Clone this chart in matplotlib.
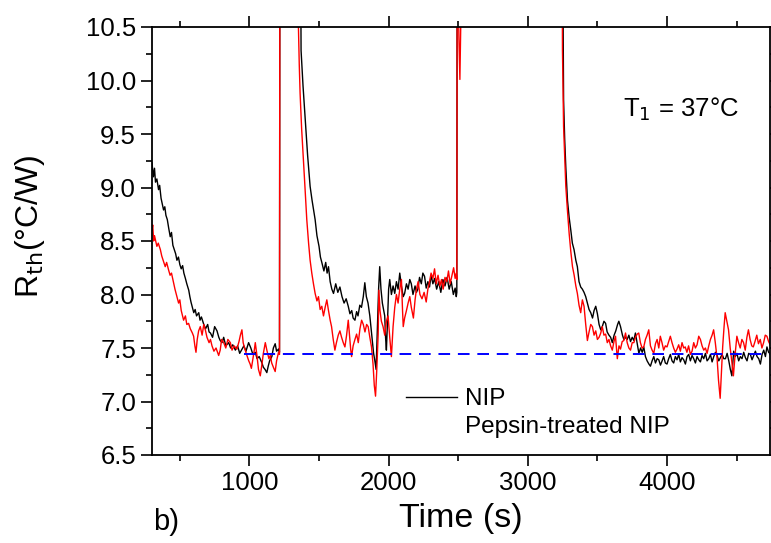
import matplotlib
matplotlib.use("Agg")
import matplotlib.pyplot as plt
from matplotlib.lines import Line2D
from matplotlib.ticker import MultipleLocator

plt.rcParams['font.family'] = ['Liberation Sans', 'DejaVu Sans']

# NIP (black)
nip_time = [300, 310, 318, 325, 335, 347, 355, 365, 375, 383, 392, 400, 410, 420, 431, 440, 450, 460, 470, 479,
            490, 500, 510, 520, 529, 540, 550, 564, 572, 580, 590, 600, 610, 620, 636, 645, 655, 672, 685, 700,
            710, 720, 735, 750, 767, 780, 790, 803, 815, 830, 851, 865, 880, 899, 915, 930, 947, 960, 975, 994,
            1010, 1025, 1042, 1055, 1070, 1090, 1100, 1112, 1125, 1135, 1145, 1161, 1172, 1185, 1195, 1209, 1216,
            1219, 1365,
            1371, 1385, 1400, 1418, 1436, 1450, 1462, 1472, 1485, 1500, 1510, 1520, 1535, 1548, 1558, 1568, 1580,
            1592, 1604, 1620, 1635, 1650, 1665, 1680, 1695, 1710, 1722, 1735, 1745, 1758, 1770, 1780, 1793, 1805,
            1818, 1829, 1840, 1852, 1865, 1880, 1892, 1900, 1910, 1920, 1928, 1936, 1945, 1955, 1965, 1972, 1978,
            1984, 1992, 2000, 2008, 2020, 2032, 2044, 2056, 2068, 2080, 2092, 2105, 2115, 2128, 2140, 2152, 2163,
            2175, 2190, 2200, 2210, 2222, 2235, 2246, 2258, 2270, 2282, 2294, 2305, 2318, 2330, 2345, 2360, 2375,
            2390, 2405, 2420, 2435, 2450, 2465, 2478, 2486, 2490,
            2493, 3250,
            3254, 3257, 3265, 3273, 3285, 3297, 3309, 3320, 3332, 3345, 3356, 3368, 3380, 3392, 3404, 3416, 3428,
            3440, 3452, 3465, 3476, 3488, 3500, 3512, 3524, 3535, 3547, 3559, 3570, 3583, 3595, 3607, 3620, 3632,
            3645, 3654, 3666, 3680, 3690, 3702, 3714, 3726, 3738, 3750, 3762, 3773, 3785, 3798, 3810, 3822, 3833,
            3845, 3857, 3870, 3881, 3893, 3905, 3917, 3929, 3941, 3953, 3965, 3976, 3988, 4000, 4012, 4024, 4036,
            4048, 4060, 4072, 4084, 4096, 4108, 4120, 4132, 4144, 4156, 4168, 4180, 4192, 4204, 4216, 4228, 4240,
            4252, 4264, 4276, 4288, 4300, 4312, 4324, 4336, 4348, 4360, 4372, 4384, 4396, 4408, 4420, 4432, 4444,
            4455, 4466, 4479, 4490, 4502, 4515, 4527, 4539, 4551, 4563, 4575, 4587, 4599, 4611, 4623, 4635, 4647,
            4659, 4671, 4683, 4695, 4707, 4718, 4730, 4745]
nip_rth = [9.23, 9.10, 9.18, 9.05, 9.08, 8.98, 9.02, 8.90, 8.84, 8.79, 8.82, 8.74, 8.70, 8.62, 8.54, 8.58, 8.46, 8.42, 8.38, 8.32,
           8.35, 8.28, 8.24, 8.27, 8.20, 8.15, 8.10, 8.04, 7.98, 7.93, 7.88, 7.83, 7.86, 7.80, 7.83, 7.76, 7.79, 7.72, 7.68, 7.72,
           7.65, 7.64, 7.60, 7.70, 7.66, 7.60, 7.57, 7.55, 7.60, 7.52, 7.55, 7.50, 7.53, 7.48, 7.52, 7.45, 7.49, 7.52, 7.47, 7.55,
           7.50, 7.44, 7.46, 7.40, 7.42, 7.36, 7.32, 7.30, 7.27, 7.33, 7.38, 7.42, 7.50, 7.54, 7.47, 7.49, 7.46,
           12.0, 12.0,
           10.28, 9.95, 9.66, 9.30, 9.01, 8.88, 8.78, 8.70, 8.55, 8.45, 8.35, 8.30, 8.22, 8.30, 8.20, 8.26, 8.12,
           8.05, 8.01, 8.10, 8.02, 8.07, 7.98, 7.92, 7.96, 7.89, 7.82, 7.85, 7.78, 7.76, 7.84, 7.80, 7.90, 7.88,
           7.98, 8.11, 7.98, 7.92, 7.80, 7.60, 7.45, 7.39, 7.30, 7.70, 8.05, 8.26, 8.05, 7.92, 7.85, 7.80, 7.60,
           7.48, 7.75, 8.05, 8.14, 8.00, 8.08, 8.01, 8.12, 8.05, 8.20, 8.08, 7.98, 8.01, 8.10, 8.05, 8.14, 8.10,
           8.00, 8.08, 8.02, 8.05, 8.16, 8.10, 8.20, 8.17, 8.06, 8.12, 8.07, 8.18, 8.10, 8.15, 8.05, 8.12, 8.02,
           8.14, 8.08, 8.16, 8.05, 8.12, 8.00, 8.06, 7.98, 8.02,
           12.0, 12.0,
           10.50, 9.82, 9.45, 9.19, 8.88, 8.72, 8.60, 8.48, 8.42, 8.32, 8.26, 8.12, 8.07, 8.05, 8.02, 7.98, 7.92,
           7.86, 7.83, 7.78, 7.85, 7.89, 7.82, 7.72, 7.67, 7.70, 7.75, 7.73, 7.65, 7.62, 7.60, 7.55, 7.62, 7.66,
           7.72, 7.75, 7.70, 7.62, 7.58, 7.60, 7.58, 7.62, 7.56, 7.60, 7.57, 7.64, 7.55, 7.45, 7.50, 7.46, 7.51,
           7.42, 7.38, 7.35, 7.33, 7.38, 7.42, 7.36, 7.40, 7.39, 7.34, 7.38, 7.42, 7.36, 7.35, 7.40, 7.44, 7.38,
           7.36, 7.42, 7.39, 7.44, 7.37, 7.41, 7.39, 7.35, 7.42, 7.44, 7.38, 7.43, 7.40, 7.36, 7.42, 7.39, 7.37,
           7.43, 7.40, 7.45, 7.38, 7.40, 7.44, 7.37, 7.42, 7.46, 7.43, 7.38, 7.41, 7.44, 7.40, 7.40, 7.45, 7.38,
           7.30, 7.24, 7.47, 7.42, 7.45, 7.38, 7.42, 7.40, 7.46, 7.41, 7.38, 7.45, 7.44, 7.39, 7.43, 7.47, 7.42,
           7.40, 7.35, 7.44, 7.48, 7.42, 7.51, 7.46, 7.44]

# Pepsin-treated NIP (red)
pep_time = [300, 305, 312, 318, 325, 335, 345, 360, 370, 380, 395, 405, 419, 430, 440, 455, 465, 475, 491, 500,
            510, 527, 540, 550, 563, 575, 590, 599, 608, 616, 625, 635, 647, 660, 672, 683, 695, 710, 720, 731,
            745, 760, 779, 790, 800, 815, 830, 845, 863, 875, 890, 910, 925, 935, 946, 955, 965, 982, 995, 1005,
            1014, 1025, 1035, 1042, 1055, 1065, 1078, 1090, 1100, 1114, 1125, 1140, 1150, 1160, 1172, 1185, 1195,
            1209, 1216,
            1219, 1348,
            1352, 1358, 1364, 1375, 1388, 1400, 1412, 1425, 1436, 1448, 1460, 1472, 1485, 1496, 1508, 1520, 1532,
            1544, 1556, 1568, 1580, 1590, 1602, 1614, 1625, 1638, 1650, 1662, 1674, 1686, 1698, 1710, 1720, 1728,
            1734, 1745, 1758, 1770, 1782, 1794, 1806, 1818, 1830, 1842, 1853, 1865, 1877, 1888, 1897, 1906, 1915,
            1925, 1930, 1938, 1948, 1960, 1972, 1984, 1996, 2008, 2020, 2032, 2044, 2056, 2068, 2080, 2092, 2100,
            2105, 2115, 2128, 2140, 2152, 2163, 2172, 2178, 2190, 2200, 2212, 2225, 2240, 2255, 2270, 2282, 2294,
            2305, 2318, 2330, 2342, 2355, 2368, 2380, 2392, 2405, 2418, 2430, 2442, 2455, 2467, 2478, 2486, 2490,
            2493, 2505, 2512, 2518, 2525, 3245,
            3249, 3253, 3257, 3265, 3273, 3285, 3297, 3309, 3321, 3333, 3345, 3356, 3368, 3380, 3392, 3404, 3416,
            3428, 3440, 3452, 3464, 3476, 3488, 3500, 3512, 3524, 3535, 3547, 3559, 3571, 3583, 3595, 3607, 3619,
            3630, 3643, 3655, 3666, 3678, 3690, 3702, 3714, 3726, 3738, 3750, 3762, 3773, 3786, 3797, 3809, 3821,
            3833, 3845, 3857, 3869, 3881, 3893, 3905, 3917, 3929, 3941, 3952, 3964, 3976, 3988, 4000, 4012, 4024,
            4036, 4048, 4060, 4072, 4084, 4096, 4108, 4120, 4131, 4143, 4155, 4168, 4180, 4192, 4204, 4216, 4228,
            4240, 4252, 4264, 4276, 4288, 4300, 4312, 4324, 4335, 4347, 4360, 4370, 4382, 4390, 4400, 4410, 4418,
            4430, 4442, 4454, 4466, 4477, 4490, 4502, 4514, 4526, 4538, 4550, 4562, 4574, 4585, 4597, 4609, 4620,
            4632, 4645, 4657, 4670, 4682, 4694, 4706, 4718, 4730, 4745]
pep_rth = [8.60, 8.65, 8.50, 8.55, 8.51, 8.45, 8.48, 8.42, 8.36, 8.32, 8.26, 8.30, 8.23, 8.18, 8.20, 8.11, 8.05, 8.00, 7.92, 7.95,
           7.85, 7.76, 7.80, 7.72, 7.73, 7.68, 7.64, 7.61, 7.52, 7.46, 7.58, 7.66, 7.70, 7.62, 7.72, 7.67, 7.60, 7.55, 7.58, 7.52,
           7.47, 7.50, 7.43, 7.48, 7.58, 7.55, 7.50, 7.58, 7.55, 7.48, 7.52, 7.49, 7.56, 7.62, 7.67, 7.55, 7.50, 7.43, 7.38, 7.35,
           7.31, 7.40, 7.48, 7.55, 7.42, 7.30, 7.24, 7.35, 7.45, 7.55, 7.48, 7.40, 7.43, 7.36, 7.32, 7.28, 7.38,
           7.46, 7.44,
           12.0, 12.0,
           10.50, 10.15, 9.88, 9.55, 9.26, 8.98, 8.70, 8.48, 8.32, 8.20, 8.10, 8.01, 7.94, 7.98, 7.86, 7.89, 7.80,
           7.88, 7.95, 7.85, 7.76, 7.70, 7.58, 7.48, 7.55, 7.62, 7.66, 7.60, 7.55, 7.51, 7.62, 7.76, 7.60, 7.48,
           7.42, 7.52, 7.58, 7.63, 7.55, 7.68, 7.76, 7.72, 7.65, 7.72, 7.70, 7.60, 7.51, 7.35, 7.15, 7.05, 7.30,
           7.63, 8.04, 7.85, 7.75, 7.70, 7.62, 7.75, 7.80, 7.60, 7.42, 7.70, 7.88, 8.00, 7.92, 8.05, 8.14, 7.85,
           7.70, 7.78, 7.85, 7.92, 7.98, 7.88, 7.82, 7.78, 7.95, 8.05, 8.12, 8.00, 7.96, 8.02, 7.93, 8.05, 8.12,
           8.20, 8.15, 8.24, 8.10, 8.18, 8.08, 8.14, 8.05, 8.16, 8.12, 8.22, 8.10, 8.18, 8.25, 8.15, 8.20, 8.14,
           11.5, 10.40, 10.01, 10.50, 12.0, 12.0,
           10.28, 9.90, 9.57, 9.30, 9.01, 8.78, 8.57, 8.40, 8.26, 8.18, 8.08, 8.01, 7.90, 7.83, 7.95, 7.89, 7.72,
           7.57, 7.65, 7.72, 7.70, 7.62, 7.66, 7.58, 7.60, 7.64, 7.70, 7.62, 7.63, 7.55, 7.58, 7.52, 7.48, 7.56,
           7.61, 7.40, 7.52, 7.49, 7.56, 7.57, 7.64, 7.55, 7.50, 7.48, 7.55, 7.55, 7.60, 7.63, 7.64, 7.55, 7.50,
           7.51, 7.58, 7.62, 7.67, 7.52, 7.48, 7.45, 7.54, 7.58, 7.50, 7.61, 7.55, 7.48, 7.52, 7.51, 7.56, 7.61,
           7.55, 7.50, 7.46, 7.49, 7.53, 7.47, 7.55, 7.50, 7.51, 7.46, 7.52, 7.44, 7.47, 7.55, 7.50, 7.53, 7.61,
           7.58, 7.52, 7.48, 7.50, 7.45, 7.52, 7.58, 7.62, 7.67, 7.55, 7.40, 7.20, 7.03, 7.25, 7.51, 7.70, 7.83,
           7.75, 7.67, 7.50, 7.37, 7.24, 7.45, 7.61, 7.55, 7.50, 7.58, 7.55, 7.48, 7.60, 7.67, 7.58, 7.52, 7.51,
           7.56, 7.62, 7.54, 7.58, 7.50, 7.55, 7.62, 7.61, 7.56, 7.52]

baseline_rth = 7.44
baseline_start = 958

fig = plt.figure(figsize=(7.71, 5.43), dpi=100)
ax = fig.add_axes([152 / 771, (543 - 455) / 543, 618 / 771, 428 / 543])

nip_line, = ax.plot(nip_time, nip_rth, color='black', lw=1.0)
ax.plot(pep_time, pep_rth, color='red', lw=1.0)
ax.plot([baseline_start, 4750], [baseline_rth, baseline_rth], color='blue', lw=1.4,
        dashes=(6, 4))

ax.set_xlim(300, 4740)
ax.set_ylim(6.5, 10.5)
ax.xaxis.set_major_locator(MultipleLocator(1000))
ax.xaxis.set_minor_locator(MultipleLocator(500))
ax.yaxis.set_major_locator(MultipleLocator(0.5))
ax.yaxis.set_minor_locator(MultipleLocator(0.25))
ax.yaxis.set_major_formatter(plt.FormatStrFormatter('%.1f'))
ax.tick_params(which='both', direction='out', top=True, right=True, width=1.2, labelsize=18.5)
ax.tick_params(which='major', length=8)
ax.tick_params(which='minor', length=4)
for s in ax.spines.values():
    s.set_linewidth(1.3)

ax.set_xlabel('Time (s)', fontsize=24.5, labelpad=6)
ax.set_ylabel(r'R$_{\mathrm{th}}$(°C/W)', fontsize=23)
ax.yaxis.set_label_coords(-0.17, 0.535)

ax.text(0.762, 0.79, r'T$_1$ = 37°C', transform=ax.transAxes, fontsize=18.5)
fig.text(153 / 771, 1 - 530 / 543, 'b)', fontsize=21)

blank = Line2D([], [], color='none')
ax.legend([nip_line, blank], ['NIP', 'Pepsin-treated NIP'], loc='lower left',
          bbox_to_anchor=(0.375, -0.012), frameon=False, fontsize=17.5,
          handlelength=2.1, handletextpad=0.35, labelspacing=0.25)

fig.savefig('out.png', dpi=100)
